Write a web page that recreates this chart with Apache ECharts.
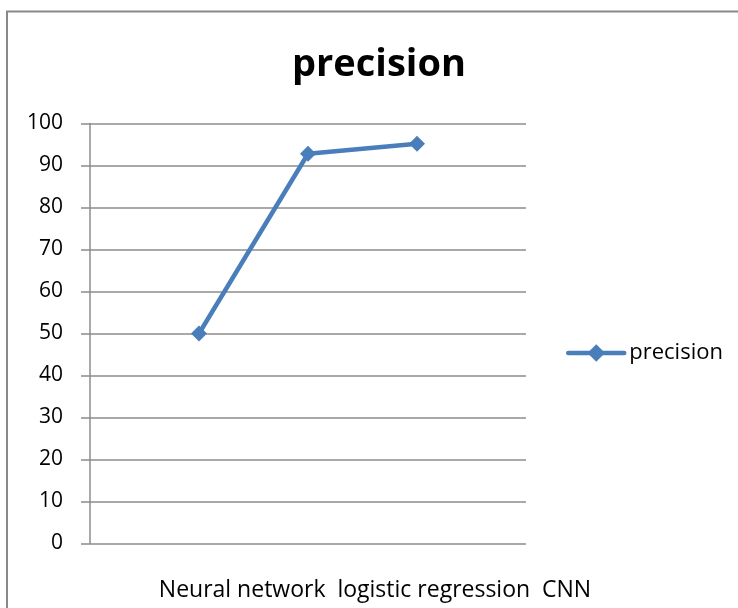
<!DOCTYPE html>
<html>
<head>
<meta charset="utf-8">
<script src="https://cdn.jsdelivr.net/npm/echarts@6/dist/echarts.min.js"></script>
<style>html,body{margin:0;padding:0;background:#fff;}#c{width:738px;height:608px;}</style>
</head>
<body>
<div id="c"></div>
<script>
const categories = ['Neural network', 'logistic regression', 'CNN'];
const precision = [50, 92.8, 95.2];
const yTicks = [0, 10, 20, 30, 40, 50, 60, 70, 80, 90, 100];

const axisData = [''].concat(categories, ['']);
const seriesData = [null].concat(precision, [null]);
const FONT = "'Open Sans', 'Liberation Sans', sans-serif";

const chart = echarts.init(document.getElementById('c'));
chart.setOption({
  animation: false,
  backgroundColor: '#fff',
  legend: {
    left: 566, top: 342, padding: 0,
    itemWidth: 56, itemHeight: 22, itemGap: 6,
    textStyle: { fontFamily: FONT, fontSize: 22, color: '#000' },
    lineStyle: { width: 4.5, cap: 'round' },
    data: ['precision']
  },
  grid: { left: 90, right: 212, top: 123.5, bottom: 64.5, outerBoundsMode: 'none', containLabel: false },
  xAxis: {
    type: 'category', data: axisData, boundaryGap: false,
    axisLine: { show: false }, axisTick: { show: false }, axisLabel: { show: false },
    splitLine: { show: false }
  },
  yAxis: {
    type: 'value', min: yTicks[0], max: yTicks[yTicks.length - 1], interval: 10,
    axisLine: { show: true, lineStyle: { color: '#8c8c8c', width: 1.5 } },
    axisTick: { show: true, length: 9, lineStyle: { color: '#8c8c8c', width: 1.5 } },
    axisLabel: { margin: 27, fontFamily: FONT, fontSize: 21, color: '#000' },
    splitLine: { show: true, lineStyle: { color: '#8c8c8c', width: 1.5 } }
  },
  series: [{
    name: 'precision', type: 'line', data: seriesData,
    symbol: 'diamond', symbolSize: 16, connectNulls: false,
    lineStyle: { color: '#4a7ebb', width: 4.5 },
    itemStyle: { color: '#4a7ebb' }
  }],
  graphic: [{
    type: 'rect', shape: { x: 7, y: 11.5, width: 760, height: 620 },
    style: { fill: 'none', stroke: '#888', lineWidth: 2 }, silent: true
  }, {
    type: 'text', x: 379, y: 65,
    style: { text: 'precision', fontFamily: FONT, fontSize: 38, fontWeight: 'bold', fill: '#000', align: 'center', verticalAlign: 'middle' },
    silent: true
  }, {
    type: 'text', x: 375, y: 590,
    style: { text: categories.join('  '), fontFamily: FONT, fontSize: 23, fill: '#000', align: 'center', verticalAlign: 'middle' },
    silent: true
  }]
});
</script>
</body>
</html>
